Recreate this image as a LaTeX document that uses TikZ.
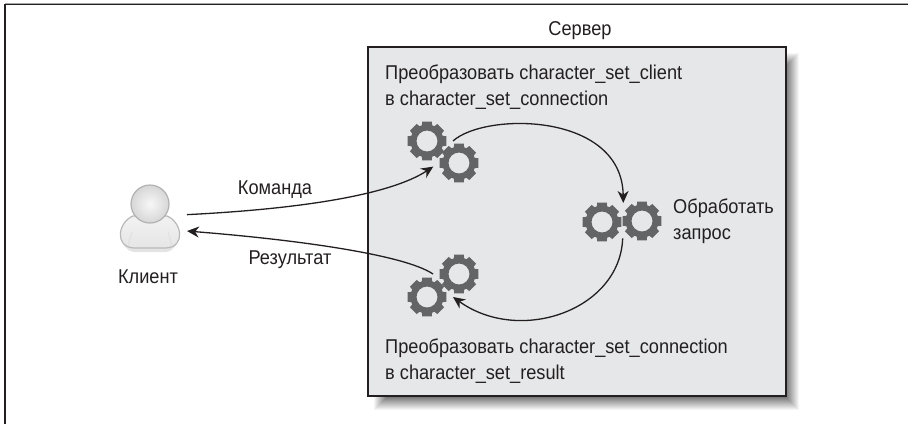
\documentclass[tikz,border=0pt]{standalone}
\usepackage{fontspec}
\setmainfont[FakeStretch=0.91]{Liberation Sans}
\usetikzlibrary{arrows.meta}
\definecolor{ink}{HTML}{231F20}
\definecolor{gearcol}{HTML}{636466}
\definecolor{servercol}{HTML}{E6E7E8}
\tikzset{
  lbl/.style={font=\fontsize{20}{25.5}\selectfont,text=ink,inner sep=0pt,align=left},
  gearnode/.style={circle,inner sep=0pt,outer sep=0pt,minimum size=52pt},
  arr/.style={draw=ink,line width=1.3pt,-{Stealth[length=12pt,width=11pt]}},
  serverbox/.style={draw=ink,line width=1.3pt,fill=servercol,inner sep=0pt,minimum width=418pt,minimum height=349pt},
  clientnode/.style={inner sep=0pt,outer sep=0pt,minimum width=74pt,minimum height=70pt}
}
\newcommand{\gear}[3]{
  \node[gearnode] (#1) at (#2,#3) {};
  \fill[gearcol,even odd rule,shift={(#2,#3)}] (-18:16.5)
    \foreach \a in {0,45,...,315} {
      -- ({\a-18}:16.5) -- ({\a-14}:20) -- ({\a+14}:20) -- ({\a+18}:16.5)
    } -- cycle (0,0) circle (10.5);
}
\begin{document}
\begin{tikzpicture}[x=1pt,y=-1pt]
\useasboundingbox (0,0) rectangle (908,424);
\draw[gray!70,line width=1pt] (5,3.4) -- (908,3.4);
\draw[ink,line width=1.3pt] (5,4.4) -- (908,4.4);
\draw[ink,line width=1.6pt] (5,4) -- (5,424);

\foreach \i in {0,...,13}
  \fill[black!\the\numexpr 4+\i*4\relax] (374+\i,53+\i) rectangle (799-\i,410-\i);
\node[serverbox] (server) at (577,221.5) {};
\node[lbl] (serverlabel) at (580,31) {Сервер};
\node[lbl,anchor=north west] (clienttoconn) at (385,65) {Преобразовать character\_set\_client\\в character\_set\_connection};
\node[lbl,anchor=north west] (conntoresult) at (385,339) {Преобразовать character\_set\_connection\\в character\_set\_result};
\node[lbl,anchor=north west] (runquery) at (673,199) {Обработать\\запрос};

\gear{gearA}{427}{141}
\gear{gearB}{459}{163}
\gear{gearC}{602}{222}
\gear{gearD}{642}{221}
\gear{gearE}{459}{274}
\gear{gearF}{427}{297}

\node[clientnode] (client) at (150,222.5) {};
\fill[gray!35,opacity=.6] (131,219) .. controls (118,226) and (119,250) .. (134,252) -- (166,252) .. controls (181,250) and (182,226) .. (169,219) -- cycle;
\shade[top color=white!95!black,bottom color=white!90!black,draw=gray!55,line width=1.2pt] (133,216) .. controls (118,222) and (114,247) .. (134,248) -- (166,248) .. controls (186,247) and (182,222) .. (167,216) -- cycle;
\draw[gray!25,line width=1pt] (128,246) -- (132,232) (172,246) -- (168,232);
\shade[inner color=white!97!black,outer color=white!84!black,draw=gray!60,line width=1.2pt] (150,204) circle (19);
\node[lbl] (clientlabel) at (148,277) {Клиент};

\node[lbl] (cmdlabel) at (275,190) {Команда};
\node[lbl] (resultlabel) at (290,260) {Результат};

\draw[arr] (client.12) .. controls (300,209) and (390,195) .. (gearB.188);
\draw[arr] (gearA.0) .. controls (485,112) and (622,112) .. (gearD.136);
\draw[arr] (gearD.222) .. controls (620,310) and (520,345) .. (gearF.0);
\draw[arr] (gearE.180) .. controls (405,255) and (300,240) .. (client.-13);
\end{tikzpicture}
\end{document}
